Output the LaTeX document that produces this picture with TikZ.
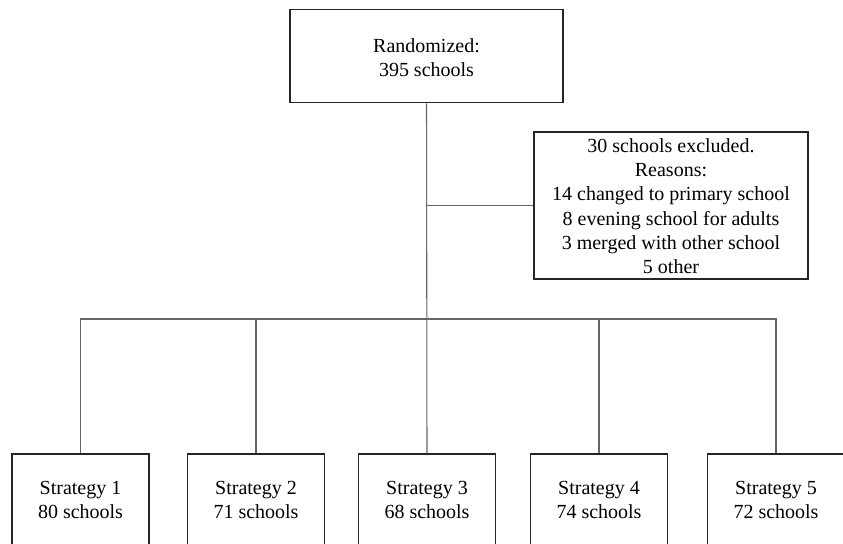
\documentclass[tikz,border=0pt]{standalone}
\usepackage{fontspec}
\setmainfont{Liberation Serif}
\begin{document}
\begin{tikzpicture}[x=0.75pt,y=-0.75pt,
  box/.style={draw=black!85,line width=1.2pt,fill=white,inner sep=0pt},
  conn/.style={draw=black!60,line width=0.8pt},
  txt/.style={align=center,inner sep=0pt,font=\fontsize{15pt}{18.1pt}\selectfont}]
\clip (0,0) rectangle (843,543);
\fill[white] (0,0) rectangle (843,543);
% top box
\node[box,minimum width=205pt,minimum height=70pt] (top) at (426.5,56) {};
\node[txt] (toptxt) at (426.5,57.5) {Randomized:\\395 schools};
% exclusion box
\node[box,minimum width=205.5pt,minimum height=110.25pt] (ex) at (671,205.5) {};
\node[txt] (extxt) at (671,206.2) {30 schools excluded.\\Reasons:\\14 changed to primary school\\8 evening school for adults\\3 merged with other school\\5 other};
\coordinate (k) at (426.5,205.5);
\coordinate (j) at (426.5,319);
% bottom boxes
\foreach \i/\x/\n in {1/80.5/80,2/256/71,3/427/68,4/599/74,5/776/72}{
  \node[box,minimum width=102.75pt,minimum height=80.25pt,anchor=north] (s\i) at (\x,453) {};
  \node[txt] (t\i) at (\x,500.2) {Strategy \i\\\n\ schools};
}
% connectors
\draw[conn] (top.south) -- (s3.north);
\draw[conn] (k) -- (ex.west);
\draw[conn] (s1.north) -- (s1.north |- j) -- (s5.north |- j) -- (s5.north);
\draw[conn] (s2.north) -- (s2.north |- j);
\draw[conn] (s4.north) -- (s4.north |- j);
\end{tikzpicture}
\end{document}
